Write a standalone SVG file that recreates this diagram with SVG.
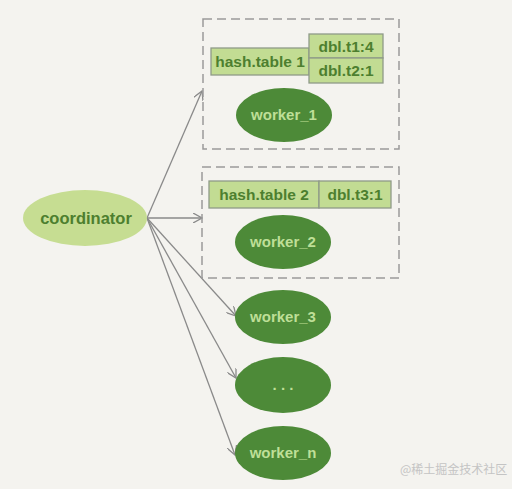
<svg xmlns="http://www.w3.org/2000/svg" width="512" height="489" viewBox="0 0 512 489">
<defs>
<marker id="arr" viewBox="0 0 10 10" refX="9" refY="5" markerWidth="10" markerHeight="10" markerUnits="userSpaceOnUse" orient="auto">
<path d="M0,0 L9,5 L0,10" fill="none" stroke="#8a8a8a" stroke-width="1.3"/>
</marker>
<style>
.bg{fill:#f4f3ef}
.box{fill:none;stroke:#9a9a9a;stroke-width:1.5;stroke-dasharray:9 5}
.cell{fill:#c2dc93;stroke:#8f9a88;stroke-width:1.3}
.ct{font-family:"Liberation Sans",Arial,sans-serif;font-weight:bold;fill:#4d7f2f;font-size:15.5px;text-anchor:middle}
.w{fill:#4d8a38}
.wt{font-family:"Liberation Sans",Arial,sans-serif;font-weight:bold;fill:#bedf97;font-size:15px;text-anchor:middle}
.coord{fill:#c6dd92}
.edge{fill:none;stroke:#8a8a8a;stroke-width:1.3;marker-end:url(#arr)}
.wm{font-family:"Noto Sans CJK SC","Noto Sans",sans-serif;fill:#c4c4c4;font-size:12px}
</style>
</defs>
<rect class="bg" x="0" y="0" width="512" height="489"/>
<g id="connectors">
<line class="edge" x1="147" y1="218" x2="202" y2="91"/>
<line class="edge" x1="147" y1="218" x2="202" y2="218"/>
<line class="edge" x1="147" y1="218" x2="236" y2="316"/>
<line class="edge" x1="147" y1="218" x2="236" y2="378"/>
<line class="edge" x1="147" y1="218" x2="235" y2="455"/>
</g>
<g id="group1">
<rect class="box" x="203" y="19" width="196" height="130"/>
</g>
<g id="hashtable1">
<rect class="cell" x="211" y="48" width="98" height="27"/>
<text class="ct" x="260" y="67">hash.table 1</text>
<rect class="cell" x="309" y="34" width="74" height="24"/>
<text class="ct" x="346" y="51.5">dbl.t1:4</text>
<rect class="cell" x="309" y="58" width="74" height="25"/>
<text class="ct" x="346" y="76">dbl.t2:1</text>
</g>
<g id="worker_1">
<ellipse class="w" cx="284" cy="115" rx="48" ry="27"/>
<text class="wt" x="284" y="120">worker_1</text>
</g>
<g id="group2">
<rect class="box" x="202" y="167" width="197" height="111"/>
</g>
<g id="hashtable2">
<rect class="cell" x="209" y="181" width="110" height="27"/>
<text class="ct" x="264" y="200">hash.table 2</text>
<rect class="cell" x="319" y="181" width="72" height="27"/>
<text class="ct" x="355" y="200">dbl.t3:1</text>
</g>
<g id="worker_2">
<ellipse class="w" cx="283" cy="242" rx="48" ry="27"/>
<text class="wt" x="283" y="247">worker_2</text>
</g>
<g id="coordinator">
<ellipse class="coord" cx="85" cy="218" rx="62" ry="28"/>
<text class="ct" x="86" y="223.5" style="font-size:16.5px">coordinator</text>
</g>
<g id="worker_3">
<ellipse class="w" cx="283" cy="317" rx="48" ry="27"/>
<text class="wt" x="283" y="322">worker_3</text>
</g>
<g id="worker_dots">
<ellipse class="w" cx="283" cy="385" rx="48" ry="28"/>
<text class="wt" x="283" y="390">. . .</text>
</g>
<g id="worker_n">
<ellipse class="w" cx="283" cy="453" rx="48" ry="27"/>
<text class="wt" x="283" y="458">worker_n</text>
</g>
<text class="wm" x="400" y="474">@稀土掘金技术社区</text>
</svg>
